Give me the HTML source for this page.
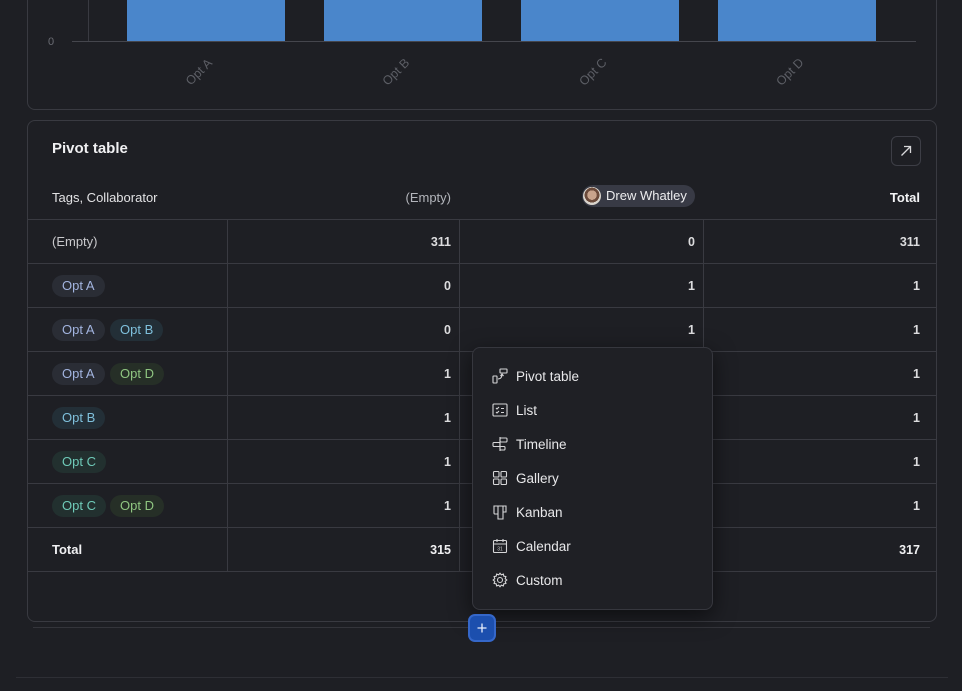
<!DOCTYPE html>
<html><head><meta charset="utf-8">
<style>
*{margin:0;padding:0;box-sizing:border-box}
html,body{width:962px;height:691px;overflow:hidden;background:#1e1f24;font-family:"Liberation Sans",sans-serif;color:#e4e4e6}
.abs{position:absolute}
.card{position:absolute;border:1px solid #393a41;border-radius:8px;background:#1e1f24}
.hl{position:absolute;height:1px;background:#393a41}
.vl{position:absolute;width:1px;background:#393a41}
.bar{position:absolute;background:#4a86cb;top:0;height:41px}
.xl{position:absolute;font-size:12.5px;line-height:14px;color:#5c5e65;transform:rotate(-45deg);transform-origin:center;white-space:nowrap;width:34px;text-align:center}
.t{position:absolute;font-size:13px;line-height:16px;white-space:nowrap}
.num{position:absolute;font-size:12.5px;font-weight:bold;color:#dcdcde;text-align:right;line-height:16px}
.pill{position:absolute;height:22px;border-radius:11px;font-size:13px;line-height:22px;padding:0 10px;white-space:nowrap}
.pa{background:#2a2d35;color:#a2b4df}
.pb{background:#232f37;color:#7fc0dc}
.pc{background:#22302f;color:#6fcab8}
.pd{background:#262f27;color:#8fc581}
.menu{position:absolute;left:472px;top:347px;width:241px;height:263px;background:#1f2025;border:1px solid #36373e;border-radius:8px;box-shadow:0 6px 22px rgba(0,0,0,.55)}
.mi{position:absolute;left:43px;font-size:13.5px;color:#e8e8ea;line-height:16px}
.ic{position:absolute;left:19px;width:16px;height:16px}
</style></head><body>

<!-- top chart card -->
<div class="card" style="left:27px;top:-20px;width:910px;height:130px"></div>
<div class="vl" style="left:88px;top:0;height:41px"></div>
<div class="bar" style="left:127px;width:158px"></div>
<div class="bar" style="left:324px;width:158px"></div>
<div class="bar" style="left:521px;width:158px"></div>
<div class="bar" style="left:718px;width:158px"></div>
<div class="hl" style="left:72px;top:41px;width:844px;background:#45464d"></div>
<div class="t" style="left:48px;top:34px;font-size:11px;color:#6a6c73">0</div>
<div class="xl" style="left:182px;top:65px">Opt A</div>
<div class="xl" style="left:379px;top:65px">Opt B</div>
<div class="xl" style="left:576px;top:65px">Opt C</div>
<div class="xl" style="left:773px;top:65px">Opt D</div>

<!-- pivot card -->
<div class="card" style="left:27px;top:120px;width:910px;height:502px"></div>
<div class="t" style="left:52px;top:141px;font-size:15px;font-weight:bold;color:#f0f0f2">Pivot table</div>
<div class="abs" style="left:891px;top:136px;width:30px;height:30px;border:1px solid #3d3e46;border-radius:6px">
<svg width="28" height="28" viewBox="0 0 28 28" style="position:absolute;left:0;top:0"><path d="M9.5 18.5 L18.5 9.5 M12 9.5 H18.5 V16" stroke="#d8d8da" stroke-width="1.3" fill="none"/></svg>
</div>

<div class="t" style="left:52px;top:190px;color:#e2e2e4">Tags, Collaborator</div>
<div class="t" style="left:351px;top:190px;width:100px;text-align:right;color:#b3b5bb">(Empty)</div>
<div class="abs" style="left:582px;top:185px;width:113px;height:22px;border-radius:11px;background:#383a45"></div>
<div class="abs" style="left:583px;top:187px;width:18px;height:18px;border-radius:50%;background:radial-gradient(circle at 50% 45%,#c9a48c 0 35%,#6b4a3a 36% 55%,#d9d4cc 56%)"></div>
<div class="t" style="left:606px;top:188px;color:#ececee">Drew Whatley</div>
<div class="t" style="left:820px;top:190px;width:100px;text-align:right;font-weight:bold;color:#f2f2f4">Total</div>

<div class="hl" style="left:28px;top:219px;width:908px"></div>
<div class="hl" style="left:28px;top:263px;width:908px"></div>
<div class="hl" style="left:28px;top:307px;width:908px"></div>
<div class="hl" style="left:28px;top:351px;width:908px"></div>
<div class="hl" style="left:28px;top:395px;width:908px"></div>
<div class="hl" style="left:28px;top:439px;width:908px"></div>
<div class="hl" style="left:28px;top:483px;width:908px"></div>
<div class="hl" style="left:28px;top:527px;width:908px"></div>
<div class="hl" style="left:28px;top:571px;width:908px"></div>
<div class="vl" style="left:227px;top:219px;height:352px"></div>
<div class="vl" style="left:459px;top:219px;height:352px"></div>
<div class="vl" style="left:703px;top:219px;height:352px"></div>

<!-- rows -->
<div class="t" style="left:52px;top:234px;color:#c9c9cc">(Empty)</div>
<div class="pill pa" style="left:52px;top:275px">Opt A</div>
<div class="pill pa" style="left:52px;top:319px">Opt A</div><div class="pill pb" style="left:110px;top:319px">Opt B</div>
<div class="pill pa" style="left:52px;top:363px">Opt A</div><div class="pill pd" style="left:110px;top:363px">Opt D</div>
<div class="pill pb" style="left:52px;top:407px">Opt B</div>
<div class="pill pc" style="left:52px;top:451px">Opt C</div>
<div class="pill pc" style="left:52px;top:495px">Opt C</div><div class="pill pd" style="left:110px;top:495px">Opt D</div>
<div class="t" style="left:52px;top:542px;font-weight:bold;color:#f0f0f2">Total</div>

<div class="num" style="left:351px;top:234px;width:100px">311</div>
<div class="num" style="left:351px;top:278px;width:100px">0</div>
<div class="num" style="left:351px;top:322px;width:100px">0</div>
<div class="num" style="left:351px;top:366px;width:100px">1</div>
<div class="num" style="left:351px;top:410px;width:100px">1</div>
<div class="num" style="left:351px;top:454px;width:100px">1</div>
<div class="num" style="left:351px;top:498px;width:100px">1</div>
<div class="num" style="left:351px;top:542px;width:100px;color:#f0f0f2">315</div>

<div class="num" style="left:595px;top:234px;width:100px">0</div>
<div class="num" style="left:595px;top:278px;width:100px">1</div>
<div class="num" style="left:595px;top:322px;width:100px">1</div>

<div class="num" style="left:820px;top:234px;width:100px">311</div>
<div class="num" style="left:820px;top:278px;width:100px">1</div>
<div class="num" style="left:820px;top:322px;width:100px">1</div>
<div class="num" style="left:820px;top:366px;width:100px">1</div>
<div class="num" style="left:820px;top:410px;width:100px">1</div>
<div class="num" style="left:820px;top:454px;width:100px">1</div>
<div class="num" style="left:820px;top:498px;width:100px">1</div>
<div class="num" style="left:820px;top:542px;width:100px;color:#f0f0f2">317</div>

<!-- lines below -->
<div class="hl" style="left:33px;top:627px;width:897px;background:#34353b"></div>
<div class="hl" style="left:16px;top:677px;width:932px;background:#2e2f35"></div>

<!-- menu -->
<div class="menu">
  <svg class="ic" style="top:20px" viewBox="0 0 16 16" fill="none" stroke="#d6d6d8" stroke-width="1.1"><rect x="1" y="8" width="4" height="7" rx="0.5"/><rect x="8" y="1" width="7" height="4" rx="0.5"/><path d="M6 11 C9 11 10 9 10 6 M8.5 8 L10 6 L11.5 8"/></svg>
  <div class="mi" style="top:21px">Pivot table</div>
  <svg class="ic" style="top:54px" viewBox="0 0 16 16" fill="none" stroke="#d6d6d8" stroke-width="1.1"><rect x="1" y="2" width="14" height="12" rx="1"/><path d="M4 6 L5 7 L7 5 M4 10 L5 11 L7 9 M9 6.5 H12 M9 10.5 H12"/></svg>
  <div class="mi" style="top:55px">List</div>
  <svg class="ic" style="top:88px" viewBox="0 0 16 16" fill="none" stroke="#d6d6d8" stroke-width="1.1"><path d="M8 1 V15"/><rect x="8" y="2" width="7" height="4" rx="1"/><rect x="1" y="6.5" width="7" height="4" rx="1"/><rect x="8" y="10.5" width="5" height="3.5" rx="1"/></svg>
  <div class="mi" style="top:89px">Timeline</div>
  <svg class="ic" style="top:122px" viewBox="0 0 16 16" fill="none" stroke="#d6d6d8" stroke-width="1.1"><rect x="1.5" y="1.5" width="5.5" height="5.5" rx="1"/><rect x="9" y="1.5" width="5.5" height="5.5" rx="1"/><rect x="1.5" y="9" width="5.5" height="5.5" rx="1"/><rect x="9" y="9" width="5.5" height="5.5" rx="1"/></svg>
  <div class="mi" style="top:123px">Gallery</div>
  <svg class="ic" style="top:156px" viewBox="0 0 16 16" fill="none" stroke="#d6d6d8" stroke-width="1.1"><path d="M2 2 H14 V8 H11 V15 H6 V10 H3 C2.4 10 2 9.6 2 9 Z M6 2 V10 M11 2 V8"/></svg>
  <div class="mi" style="top:157px">Kanban</div>
  <svg class="ic" style="top:190px" viewBox="0 0 16 16" fill="none" stroke="#d6d6d8" stroke-width="1.1"><rect x="1.5" y="2.5" width="13" height="12" rx="1"/><path d="M1.5 6 H14.5 M5 1 V4 M11 1 V4"/><text x="8" y="12.5" font-size="5" fill="#d6d6d8" stroke="none" text-anchor="middle" font-family="Liberation Sans">31</text></svg>
  <div class="mi" style="top:191px">Calendar</div>
  <svg class="ic" style="top:224px" viewBox="0 0 16 16" fill="none" stroke="#d6d6d8" stroke-width="1.1"><circle cx="8" cy="8" r="2.5"/><path d="M8 1.2 L9.3 2.8 L11.4 2.1 L11.8 4.2 L13.9 4.6 L13.2 6.7 L14.8 8 L13.2 9.3 L13.9 11.4 L11.8 11.8 L11.4 13.9 L9.3 13.2 L8 14.8 L6.7 13.2 L4.6 13.9 L4.2 11.8 L2.1 11.4 L2.8 9.3 L1.2 8 L2.8 6.7 L2.1 4.6 L4.2 4.2 L4.6 2.1 L6.7 2.8 Z"/></svg>
  <div class="mi" style="top:225px">Custom</div>
</div>

<!-- plus button -->
<div class="abs" style="left:468px;top:614px;width:28px;height:28px;border-radius:7px;background:#1c4fae;border:2px solid #3567c9"></div>
<svg class="abs" style="left:468px;top:614px" width="28" height="28" viewBox="0 0 28 28"><path d="M14 9.5 V18.5 M9.5 14 H18.5" stroke="#e8eefc" stroke-width="1.3"/></svg>

</body></html>
